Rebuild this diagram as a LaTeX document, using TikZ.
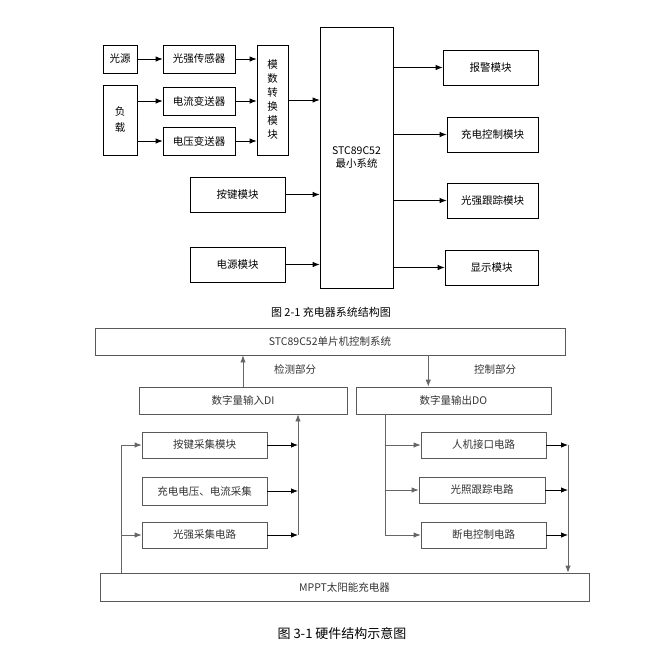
\documentclass[tikz,border=0pt]{standalone}
\usepackage{fontspec}
\setmainfont{Noto Sans CJK SC}
\usetikzlibrary{arrows.meta}
\begin{document}
\begin{tikzpicture}[x=1pt, y=-1pt, thick, line width=0.8pt, >={Latex[length=7pt,width=5.5pt]},
    blk/.style={draw, inner sep=0pt, font=\fontsize{10.5}{13}\selectfont},
    gblk/.style={draw=black!65, inner sep=0pt, text=black!80, font=\fontsize{10.5}{13}\selectfont},
    gline/.style={draw=black!60}]
    \useasboundingbox (0,0) rectangle (655,662);
    % Figure 2-1 charger structure
    \node[blk, minimum width=34, minimum height=28] (gy) at (120,59) {光源};
    \node[blk, minimum width=34, minimum height=70, align=center] (fz) at (120,120) {负\\[3pt]载};
    \node[blk, minimum width=72, minimum height=28] (gqs) at (199,59) {光强传感器};
    \node[blk, minimum width=72, minimum height=28] (dlb) at (199,101) {电流变送器};
    \node[blk, minimum width=72, minimum height=28] (dyb) at (199,141) {电压变送器};
    \node[blk, minimum width=31, minimum height=110, align=center,
          font=\fontsize{10.5}{14}\selectfont] (adc) at (272.5,100) {模\\数\\转\\换\\模\\块};
    \node[blk, minimum width=95, minimum height=35] (ajm) at (237.5,194.5) {按键模块};
    \node[blk, minimum width=95, minimum height=35] (dym) at (237.5,264.5) {电源模块};
    \node[blk, minimum width=73, minimum height=261, align=center] (stc) at (356.5,157.5) {STC89C52\\最小系统};
    \node[blk, minimum width=95, minimum height=35] (bj) at (490.5,67.5) {报警模块};
    \node[blk, minimum width=91, minimum height=35] (cdk) at (492.5,134.5) {充电控制模块};
    \node[blk, minimum width=91, minimum height=35] (gzz) at (492.5,200.5) {光强跟踪模块};
    \node[blk, minimum width=93, minimum height=35] (xs) at (491.5,267.5) {显示模块};
    \node[font=\fontsize{11}{13}\selectfont] (cap1) at (331,312) {图 2-1 充电器系统结构图};

    \draw[->] (gy) -- (gqs);
    \draw[->] (fz.east |- dlb) -- (dlb);
    \draw[->] (fz.east |- dyb) -- (dyb);
    \draw[->] (gqs) -- (gqs -| adc.west);
    \draw[->] (dlb) -- (dlb -| adc.west);
    \draw[->] (dyb) -- (dyb -| adc.west);
    \draw[->] (adc) -- (adc -| stc.west);
    \draw[->] (ajm) -- (ajm -| stc.west);
    \draw[->] (dym) -- (dym -| stc.west);
    \draw[->] (stc.east |- bj) -- (bj);
    \draw[->] (stc.east |- cdk) -- (cdk);
    \draw[->] (stc.east |- gzz) -- (gzz);
    \draw[->] (stc.east |- xs) -- (xs);

    % Figure 3-1 hardware structure
    \node[gblk, minimum width=470, minimum height=27] (mcu) at (330,341.5) {STC89C52单片机控制系统};
    \node[gblk, minimum width=208, minimum height=27] (di) at (243,400.5) {数字量输入DI};
    \node[gblk, minimum width=195, minimum height=27] (do) at (453.5,400.5) {数字量输出DO};
    \node[text=black!80, font=\fontsize{10.5}{13}\selectfont] (jc) at (295,369) {检测部分};
    \node[text=black!80, font=\fontsize{10.5}{13}\selectfont] (kz) at (495,369) {控制部分};
    \node[gblk, minimum width=125, minimum height=26] (ajc) at (204.5,445) {按键采集模块};
    \node[gblk, minimum width=125, minimum height=28] (dyc) at (204.5,491) {充电电压、电流采集};
    \node[gblk, minimum width=125, minimum height=26] (gqc) at (204.5,535) {光强采集电路};
    \node[gblk, minimum width=125, minimum height=26] (rj) at (483.5,445) {人机接口电路};
    \node[gblk, minimum width=126, minimum height=26] (gzd) at (482,490) {光照跟踪电路};
    \node[gblk, minimum width=125, minimum height=26] (ddk) at (483.5,535) {断电控制电路};
    \node[gblk, minimum width=489, minimum height=28] (mppt) at (344.5,587) {MPPT太阳能充电器};
    \node[font=\fontsize{13}{15}\selectfont] (cap2) at (342,634) {图 3-1 硬件结构示意图};
    \coordinate (inL) at (121,0);
    \coordinate (inR) at (298,0);
    \coordinate (outL) at (385,0);
    \coordinate (outR) at (568,0);

    \draw[gline, ->] (di.north) -- (mcu.south -| di.north);
    \draw[gline, ->] (mcu.south -| kz.west) ++(-42,0) coordinate (kzt) -- (kzt |- do.north);
    \draw[gline, ->] (mppt.north -| inL) |- (ajc.west);
    \draw[gline, ->] (inL |- gqc) -- (gqc.west);
    \draw[->] (ajc.east) -- (ajc.east -| inR);
    \draw[->] (dyc.east) -- (dyc.east -| inR);
    \draw[->] (gqc.east) -- (gqc.east -| inR);
    \draw[gline, ->] (gqc.east -| inR) -- (di.south -| inR);
    \draw[gline] (do.south -| outL) -- (outL |- ddk);
    \draw[gline, ->] (outL |- rj) -- (rj.west);
    \draw[gline, ->] (outL |- gzd) -- (gzd.west);
    \draw[gline, ->] (outL |- ddk) -- (ddk.west);
    \draw[->] (rj.east) -- (rj.east -| outR);
    \draw[->] (gzd.east) -- (gzd.east -| outR);
    \draw[->] (ddk.east) -- (ddk.east -| outR);
    \draw[gline, ->] (rj.east -| outR) -- (mppt.north -| outR);
\end{tikzpicture}
\end{document}
